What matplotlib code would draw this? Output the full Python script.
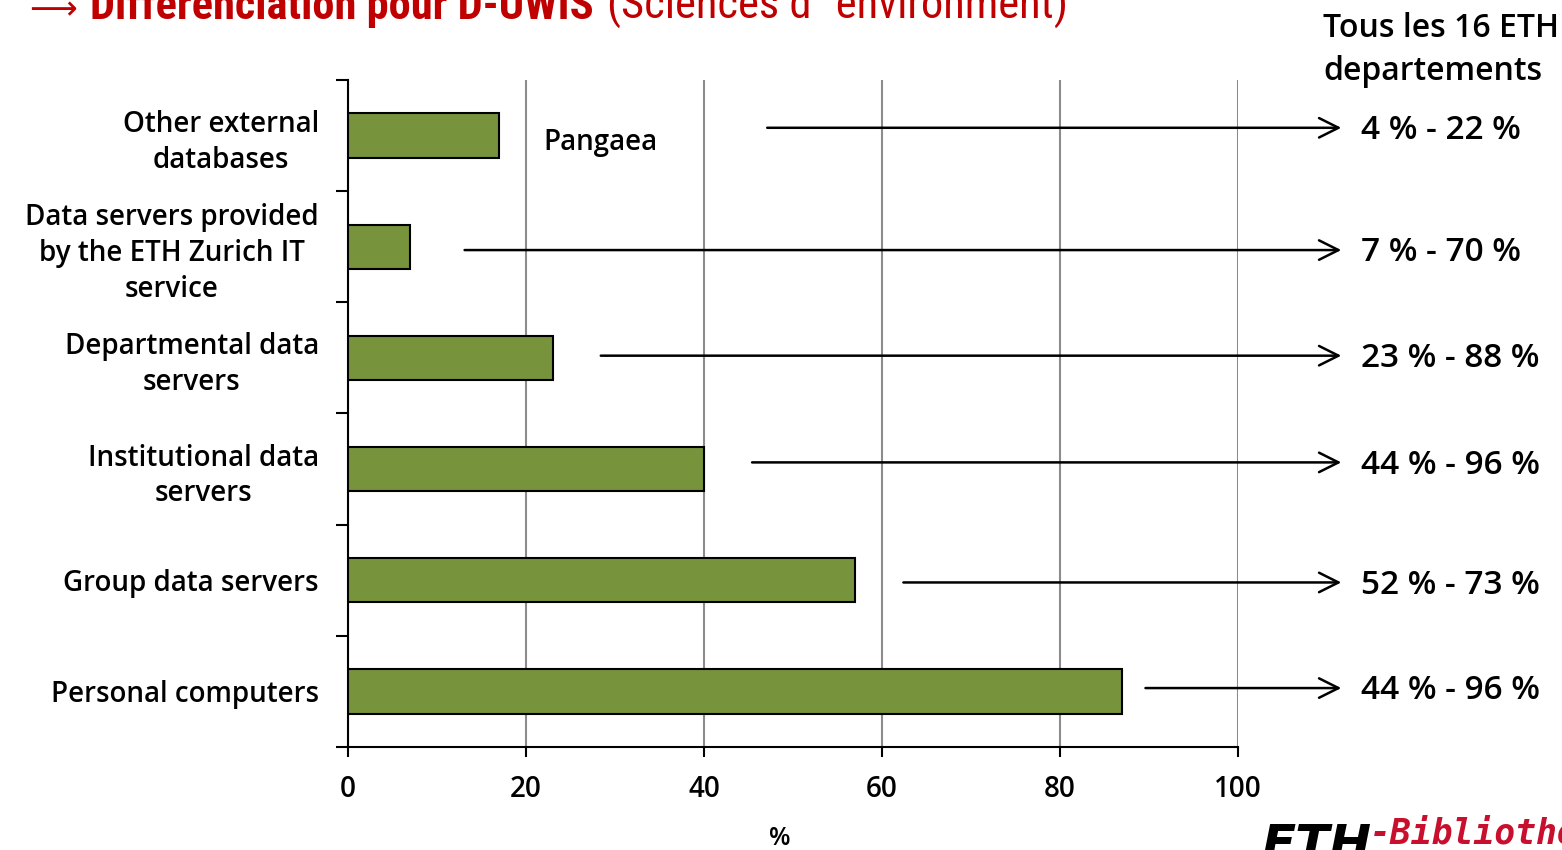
import matplotlib
matplotlib.use("Agg")
import matplotlib.pyplot as plt

# ---- data ----
categories = ["Other external\ndatabases",
              "Data servers provided\nby the ETH Zurich IT\nservice",
              "Departmental data\nservers",
              "Institutional data\nservers",
              "Group data servers",
              "Personal computers"]
values = [17, 7, 23, 40, 57, 87]
ranges = ["4 % - 22 %", "7 % - 70 %", "23 % - 88 %", "44 % - 96 %", "52 % - 73 %", "44 % - 96 %"]
xticks = [0, 20, 40, 60, 80, 100]

# ---- layout (arrow tails / vertical offsets, in data units) ----
arrow_start = [47.1, 13.1, 28.4, 45.4, 62.4, 89.6]
arrow_dy = [-0.07, 0.03, -0.02, -0.06, 0.02, -0.03]
arrow_end = 111.6
label_x = 113.8

FONT = ["Open Sans", "DejaVu Sans"]
plt.rcParams["font.family"] = FONT
COND = ["Liberation Sans Narrow", "DejaVu Sans Condensed", "Roboto Condensed", "DejaVu Sans"]

fig = plt.figure(figsize=(15.62, 8.5), dpi=100)
ax = fig.add_axes([0.2228, 0.1212, 0.5698, 0.7847])

ypos = list(range(len(categories)))
ax.barh(ypos, values, height=0.4, color="#77933c", edgecolor="black", linewidth=1.5, zorder=3)
ax.set_ylim(len(categories) - 0.5, -0.5)
ax.set_xlim(0, 100)

ax.set_xticks(xticks)
ax.set_xticklabels([str(t) for t in xticks], fontsize=20, fontweight="semibold")
ax.tick_params(axis="x", length=7, width=1.5, pad=13)
ax.xaxis.grid(True, color="#8c8c8c", linewidth=1.5, zorder=0)

ax.set_yticks(ypos)
ax.set_yticklabels(categories, fontsize=20, fontweight="semibold", multialignment="center",
                   linespacing=1.3)
ax.tick_params(axis="y", which="major", length=0, pad=21)
ax.set_yticks([i - 0.5 for i in range(len(categories) + 1)], minor=True)
ax.tick_params(axis="y", which="minor", length=9, width=1.5)

for s in ["top", "right"]:
    ax.spines[s].set_visible(False)
for s in ["left", "bottom"]:
    ax.spines[s].set_linewidth(1.5)

ax.text(48.5, 6.32, "%", fontsize=18, fontweight="semibold", va="center", ha="center", clip_on=False)

ax.text(22, 0.06, "Pangaea", fontsize=20, fontweight="semibold", va="center", ha="left")

for i in ypos:
    y = i + arrow_dy[i]
    ax.annotate("", xy=(arrow_end, y), xytext=(arrow_start[i], y), xycoords="data",
                annotation_clip=False,
                arrowprops=dict(arrowstyle="->,head_length=1.4,head_width=0.7", color="black", lw=1.8,
                                shrinkA=0, shrinkB=0))
    ax.text(label_x, y + 0.025, ranges[i], fontsize=24, fontweight="semibold", va="center", ha="left",
            clip_on=False)

fig.text(1323 / 1562, 1 - 12 / 850, "Tous les 16 ETH\ndepartements", fontsize=23, fontweight="semibold",
         va="top", ha="left", linespacing=1.4)

# title (cut at the top edge)
fig.text(29 / 1562, 1 - 19 / 850, "\u27f6", fontsize=24, fontweight="normal",
         color="#c00000", va="baseline", ha="left", family=["DejaVu Sans"])
t1 = fig.text(90 / 1562, 1 - 19 / 850, "Differenciation pour D-UWIS", fontsize=32, fontweight="bold",
              color="#c00000", va="baseline", ha="left", family=COND)
fig.canvas.draw()
bb = t1.get_window_extent()
fig.text(bb.x1 / fig.bbox.width + 13 / 1562, 1 - 19 / 850, "(Sciences d\u00b4 environment)", fontsize=32,
         color="#c00000", va="baseline", ha="left", family=COND)

# logo
fig.text(1262 / 1562, 1 - 860 / 850, "ETH", fontsize=36, fontweight="heavy", style="italic",
         color="black", va="baseline", ha="left", family=["DejaVu Sans"])
fig.text(1370 / 1562, 1 - 843 / 850, "-Bibliothek", fontsize=25, fontweight="bold", style="italic",
         color="#c8102e", va="baseline", ha="left", family=["DejaVu Sans Mono"])

fig.savefig("out.png", dpi=100)
